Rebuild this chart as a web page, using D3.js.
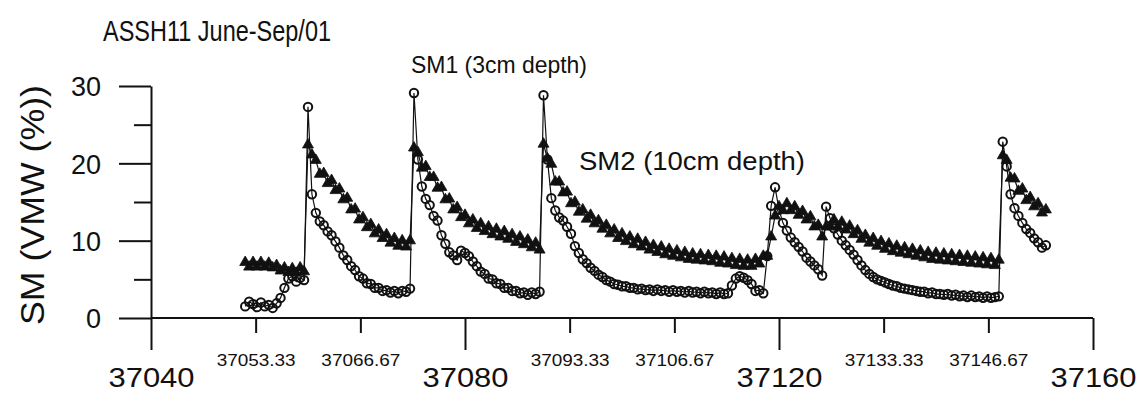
<!DOCTYPE html>
<html>
<head>
<meta charset="utf-8">
<script src="https://cdn.jsdelivr.net/npm/d3@7"></script>
<style>
  body { margin: 0; background: #fff; }
  text { font-family: "Liberation Sans", Arial, sans-serif; fill: #111; }
</style>
</head>
<body>
<div id="chart"></div>
<script>
// sampling grid: every half day from day 37052
var sampleStart = 37052, sampleStep = 0.5;

// SM1, 3cm depth (VMW %)
var sm1 = [
  1.5, 2.1, 1.8, 1.4, 2.0, 1.5, 1.7, 1.3, 1.9, 2.6, 3.9, 5.1, 5.4, 4.7, 5.2, 4.9,
  27.3, 16.0, 13.6, 12.5, 12.0, 11.2, 10.7, 9.9, 9.1, 8.1, 7.5, 6.7, 6.2, 5.4, 5.1, 4.5, 4.4, 3.9, 3.9, 3.5, 3.6, 3.3, 3.5, 3.2, 3.5, 3.4, 3.8,
  29.1, 20.5, 17.0, 15.4, 14.6, 13.2, 12.6, 10.7, 9.6, 8.5, 8.1, 7.5, 8.7, 8.4, 8.0, 7.3, 6.7, 6.0, 5.7, 5.1, 5.0, 4.5, 4.4, 3.9, 3.9, 3.5, 3.5, 3.2, 3.3, 3.0, 3.3, 3.1, 3.4,
  28.8, 20.5, 15.5, 13.9, 13.0, 12.6, 11.8, 10.9, 9.3, 8.4, 7.6, 7.1, 6.5, 6.1, 5.6, 5.3, 4.9, 4.7, 4.4, 4.3,
  4.1, 4.1, 3.9, 3.9, 3.7, 3.8, 3.6, 3.7, 3.5, 3.7, 3.5, 3.6, 3.4, 3.6, 3.4, 3.5, 3.3, 3.5, 3.3, 3.4,
  3.2, 3.4, 3.2, 3.3, 3.1, 3.3, 3.1, 3.2, 4.2, 5.1, 5.4, 5.2, 4.9, 4.4, 3.5, 3.6, 3.2, 8.0, 14.5, 16.9,
  14.0, 12.3, 11.3, 10.4, 9.8, 9.2, 8.6, 7.8, 7.3, 6.8, 6.3, 5.5, 14.4, 12.9, 11.6, 10.8, 10.0, 9.4, 8.8, 8.2,
  7.5, 6.8, 6.2, 5.7, 5.3, 5.0, 4.8, 4.6, 4.4, 4.2, 4.1, 3.9, 3.8, 3.7, 3.6, 3.5, 3.4, 3.4, 3.2, 3.3,
  3.1, 3.1, 3.0, 3.1, 2.9, 3.0, 2.8, 2.9, 2.7, 2.9, 2.7, 2.8, 2.6, 2.8, 2.6, 2.7, 2.8,
  22.8, 19.6, 16.0, 14.2, 13.2, 12.3, 11.5, 11.0, 10.3, 9.8, 9.1, 9.4
];

// SM2, 10cm depth (VMW %)
var sm2 = [
  7.2, 6.6, 7.2, 6.6, 7.2, 6.6, 7.1, 6.5, 6.8, 6.1, 6.5, 5.9, 6.4, 5.8, 6.5, 6.0,
  22.4, 21.1, 20.4, 18.6, 18.7, 17.4, 17.8, 16.5, 16.7, 15.3, 15.5, 14.0, 14.1, 12.7, 13.0, 11.7, 12.1, 10.9, 11.4, 10.3, 10.8, 9.7, 10.3, 9.3, 10.0, 9.2, 10.0,
  22.0, 21.4, 19.4, 19.6, 18.2, 18.2, 16.8, 16.9, 15.3, 15.4, 14.0, 14.3, 13.0, 13.3, 12.2, 12.7, 11.6, 12.2, 11.2, 11.8, 10.8, 11.5, 10.5, 11.2, 10.2, 10.8, 9.8, 10.5, 9.5, 10.1, 9.1, 9.7, 8.8,
  22.5, 20.6, 19.9, 17.6, 17.6, 16.2, 16.3, 14.8, 15.0, 13.7, 14.0, 12.8, 13.3, 12.2, 12.6, 11.5, 12.0, 10.9, 11.4, 10.3,
  10.9, 9.9, 10.5, 9.5, 10.2, 9.2, 9.8, 8.8, 9.4, 8.5, 9.2, 8.2, 8.9, 8.0, 8.7, 7.8, 8.5, 7.6, 8.3, 7.5,
  8.2, 7.4, 8.1, 7.3, 8.0, 7.1, 7.9, 7.0, 7.7, 6.8, 7.6, 6.7, 7.5, 6.7, 7.6, 7.0, 8.0, 8.0, 10.5, 13.2,
  14.4, 13.9, 14.8, 13.9, 14.4, 13.3, 13.8, 12.7, 13.1, 11.8, 12.0, 10.5, 11.8, 11.8, 12.7, 11.8, 12.4, 11.4, 11.9, 10.8,
  11.3, 10.2, 10.7, 9.7, 10.3, 9.3, 9.9, 8.9, 9.6, 8.6, 9.3, 8.4, 9.1, 8.2, 8.9, 8.0, 8.7, 7.8, 8.5, 7.6,
  8.4, 7.5, 8.3, 7.4, 8.2, 7.3, 8.1, 7.2, 8.0, 7.1, 7.9, 7.0, 7.8, 6.9, 7.7, 6.8, 7.5,
  21.0, 20.4, 18.1, 18.0, 16.4, 16.7, 15.2, 15.6, 14.4, 14.8, 13.6, 14.0
];

var yMajor = [0, 10, 20, 30];
var yMinor = [5, 15, 25];
var xMajor = [37040, 37080, 37120, 37160];
var xMinor = [37053.33, 37066.67, 37093.33, 37106.67, 37133.33, 37146.67];

if (sm1.length !== sm2.length) console.warn("length mismatch", sm1.length, sm2.length);

var width = 1142, height = 393;

var svg = d3.select("#chart").append("svg")
  .attr("width", width)
  .attr("height", height)
  .style("background", "#fff");

var x = d3.scaleLinear().domain([37040, 37160]).range([151, 1093]);
var y = d3.scaleLinear().domain([0, 30]).range([318, 86]);

var points = sm1.map(function(v, i) {
  return { day: sampleStart + i * sampleStep, sm1: v, sm2: sm2[i] };
});

// squeeze/stretch text to the width seen in the scan
function fit(sel, len) {
  sel.attr("textLength", len).attr("lengthAdjust", "spacingAndGlyphs");
}

// y axis, major + minor ticks
var yAxisMajor = d3.axisLeft(y).tickValues(yMajor).tickSize(32).tickSizeOuter(0).tickFormat(d3.format("d"));
var gy = svg.append("g").attr("transform", "translate(151,0)").call(yAxisMajor);
gy.selectAll("text").attr("x", -50).style("font-size", "27px").attr("dy", "0.36em");
svg.append("g").attr("transform", "translate(151,0)")
  .call(d3.axisLeft(y).tickValues(yMinor).tickSize(17).tickSizeOuter(0).tickFormat(""))
  .select(".domain").remove();

// x axis
var gx = svg.append("g").attr("transform", "translate(0,318)")
  .call(d3.axisBottom(x).tickValues(xMajor).tickSize(32).tickSizeOuter(0).tickFormat(d3.format("d")));
gx.selectAll("text").attr("y", 69).attr("dy", 0).style("font-size", "28px").call(fit, 86);
gx.select(".domain").attr("d", "M151,0H1093");
var gxm = svg.append("g").attr("transform", "translate(0,318)")
  .call(d3.axisBottom(x).tickValues(xMinor).tickSize(15).tickSizeOuter(0).tickFormat(d3.format(".2f")));
gxm.select(".domain").remove();
gxm.selectAll("text").attr("y", 48).attr("dy", 0).style("font-size", "17px").call(fit, 79);

svg.selectAll(".domain, .tick line").attr("stroke", "#111").attr("stroke-width", 2);
svg.selectAll(".tick text").attr("fill", "#111");

// connecting lines
var line1 = d3.line().x(function(d) { return x(d.day); }).y(function(d) { return y(d.sm1); });
var line2 = d3.line().x(function(d) { return x(d.day); }).y(function(d) { return y(d.sm2); });

svg.append("path").datum(points).attr("d", line2)
  .attr("fill", "none").attr("stroke", "#111").attr("stroke-width", 1.2);
svg.append("path").datum(points).attr("d", line1)
  .attr("fill", "none").attr("stroke", "#111").attr("stroke-width", 1.2);

// SM2 triangles
var tri = d3.symbol().type(d3.symbolTriangle).size(52);
svg.append("g").selectAll("path")
  .data(points)
  .enter().append("path")
  .attr("d", tri)
  .attr("transform", function(d) { return "translate(" + x(d.day) + "," + y(d.sm2) + ")"; })
  .attr("fill", "#111")
  .attr("stroke", "#111")
  .attr("stroke-width", 0.8);

// SM1 open circles
svg.append("g").selectAll("circle")
  .data(points)
  .enter().append("circle")
  .attr("cx", function(d) { return x(d.day); })
  .attr("cy", function(d) { return y(d.sm1); })
  .attr("r", 4.2)
  .attr("fill", "none")
  .attr("stroke", "#111")
  .attr("stroke-width", 2);

// titles and labels
svg.append("text").attr("x", 103).attr("y", 41).text("ASSH11 June-Sep/01")
  .style("font-size", "29px").call(fit, 228);
svg.append("text").attr("x", 411).attr("y", 73).text("SM1 (3cm depth)")
  .style("font-size", "24px").call(fit, 176);
svg.append("text").attr("x", 579).attr("y", 170).text("SM2 (10cm depth)")
  .style("font-size", "25px").call(fit, 226);
svg.append("text").attr("transform", "translate(44,205) rotate(-90)")
  .attr("text-anchor", "middle").text("SM (VMW (%))")
  .style("font-size", "33px").call(fit, 240);
</script>
</body>
</html>
